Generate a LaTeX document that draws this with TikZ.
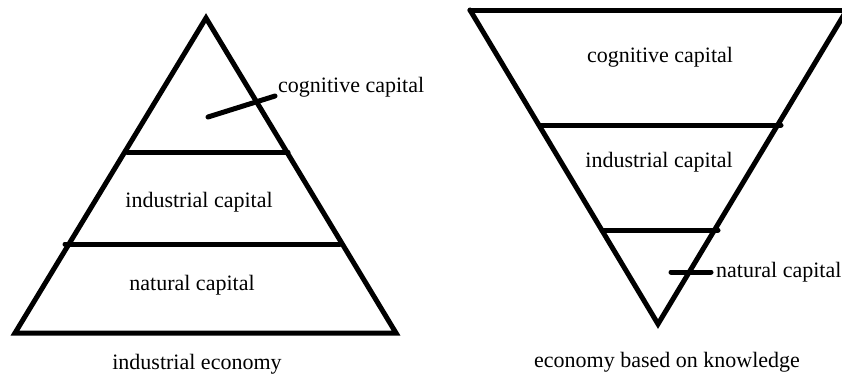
\documentclass[tikz,border=0pt]{standalone}
\usepackage{fontspec}
\setmainfont{Liberation Serif}
\begin{document}
\begin{tikzpicture}[x=1pt,y=-1pt,
  thick line/.style={line width=5pt,line cap=round,line join=miter},
  lbl/.style={inner sep=0pt,font=\fontsize{22}{24}\selectfont}]
\useasboundingbox (0,0) rectangle (842,376);
\begin{scope}
\clip (0,0) rectangle (842,376);
% left pyramid
\draw[thick line] (206,18) -- (396,333) -- (15,333) -- cycle;
\draw[thick line] (127,152) -- (288,152);
\draw[thick line] (65,244) -- (340,244);
% right inverted pyramid
\draw[thick line] (470,10) -- (658,324) -- (848,8);
\draw[thick line] (470,10) -- (850,10);
\draw[thick line] (540,125) -- (781,125);
\draw[thick line] (602,230) -- (718,230);
\end{scope}
% labels
\node[lbl,anchor=west] (cogL) at (278,87) {cognitive capital};
\node[lbl] (indL) at (199,202) {industrial capital};
\node[lbl] (natL) at (192,285) {natural capital};
\node[lbl] (capL) at (197,364) {industrial economy};
\node[lbl] (cogR) at (660,57) {cognitive capital};
\node[lbl] (indR) at (659,162) {industrial capital};
\node[lbl,anchor=west] (natR) at (716,272) {natural capital};
\node[lbl] (capR) at (667,362) {economy based on knowledge};
% leaders
\coordinate (cogP) at (208,117);
\coordinate (natP) at (671,272);
\draw[thick line] (cogP) -- ([xshift=-3pt,yshift=-9pt]cogL.west);
\draw[thick line] (natP) -- ([xshift=-5pt]natR.west);
\end{tikzpicture}
\end{document}
